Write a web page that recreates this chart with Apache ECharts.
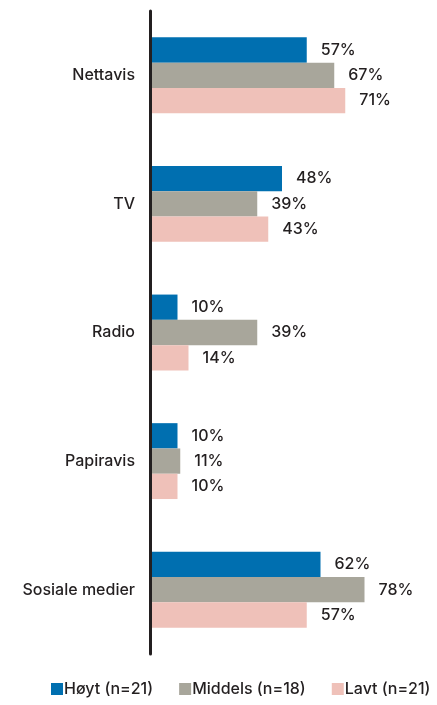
<!DOCTYPE html>
<html>
<head>
<meta charset="utf-8">
<style>
  html, body { margin: 0; padding: 0; background: #fff; }
  #chart { width: 437px; height: 705px; }
</style>
<script src="https://cdn.jsdelivr.net/npm/echarts@6/dist/echarts.min.js"></script>
</head>
<body>
<div id="chart"></div>
<script>
// Media channels, top to bottom
const categories = ['Nettavis', 'TV', 'Radio', 'Papiravis', 'Sosiale medier'];

// Share (%) per education group
const hoyt = [57, 48, 10, 10, 62];
const middels = [67, 39, 39, 11, 78];
const lavt = [71, 43, 14, 10, 57];

const seriesNames = ['Høyt (n=21)', 'Middels (n=18)', 'Lavt (n=21)'];
const seriesColors = ['#006fb0', '#a8a69b', '#efc1b9'];

const textColor = '#231f20';
const fontFamily = 'Inter, "DejaVu Sans", sans-serif';
const fontSize = 16;
const fontWeight = 500;

function makeSeries(name, data, color) {
  return {
    name: name,
    type: 'bar',
    data: data,
    barGap: '0%',
    barCategoryGap: '41%',
    itemStyle: { color: color },
    label: {
      show: true,
      position: 'right',
      distance: 14,
      formatter: '{c}%',
      color: textColor,
      fontFamily: fontFamily,
      fontSize: fontSize,
      fontWeight: fontWeight
    }
  };
}

const chart = echarts.init(document.getElementById('chart'), null, { renderer: 'canvas' });
chart.setOption({
  animation: false,
  textStyle: { fontFamily: fontFamily },
  grid: { left: 150, right: 12, top: 11, bottom: 51, containLabel: false },
  xAxis: {
    type: 'value',
    min: 0,
    max: 100,
    show: false
  },
  yAxis: {
    type: 'category',
    data: categories,
    inverse: true,
    axisLine: { show: true, lineStyle: { color: textColor, width: 3 } },
    axisTick: { show: false },
    axisLabel: {
      margin: 15,
      color: textColor,
      fontFamily: fontFamily,
      fontSize: fontSize,
      fontWeight: fontWeight
    },
    z: 5
  },
  legend: {
    bottom: 3,
    left: 46,
    icon: 'rect',
    itemWidth: 12,
    itemHeight: 12,
    itemGap: 26,
    textStyle: {
      color: textColor,
      fontFamily: fontFamily,
      fontSize: fontSize,
      fontWeight: fontWeight,
      padding: [0, 0, 0, -4]
    },
    data: seriesNames
  },
  series: [
    makeSeries(seriesNames[0], hoyt, seriesColors[0]),
    makeSeries(seriesNames[1], middels, seriesColors[1]),
    makeSeries(seriesNames[2], lavt, seriesColors[2])
  ]
});
</script>
</body>
</html>
